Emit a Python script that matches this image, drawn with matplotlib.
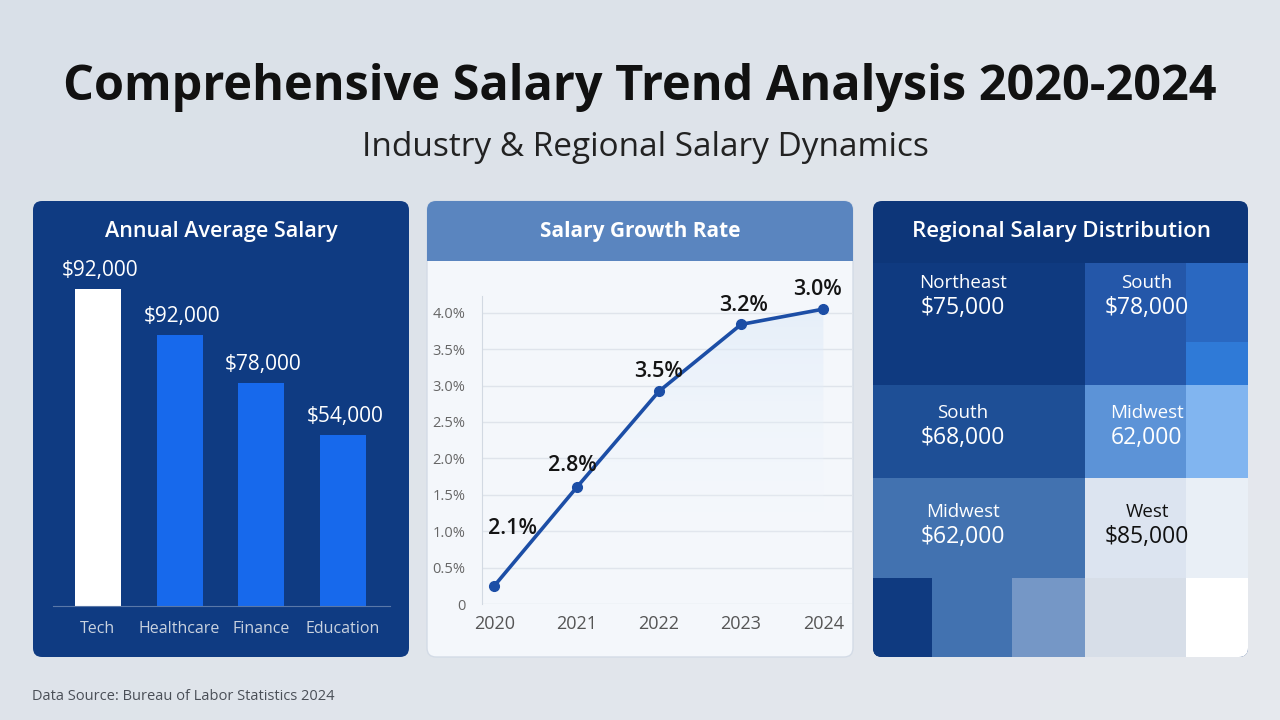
import matplotlib

matplotlib.use("Agg")
import matplotlib.pyplot as plt
import numpy as np
from matplotlib.colors import LinearSegmentedColormap
from matplotlib.patches import FancyBboxPatch, Rectangle

plt.rcParams["font.family"] = ["Open Sans", "DejaVu Sans"]

# --- data -------------------------------------------------------------
industries = ["Tech", "Healthcare", "Finance", "Education"]
salary_values = [92000, 78600, 64700, 49600]
salary_labels = ["$92,000", "$92,000", "$78,000", "$54,000"]

years = [2020, 2021, 2022, 2023, 2024]
growth_values = [0.25, 1.6, 2.92, 3.84, 4.05]
growth_labels = ["2.1%", "2.8%", "3.5%", "3.2%", "3.0%"]
growth_ticks = [0, 0.5, 1.0, 1.5, 2.0, 2.5, 3.0, 3.5, 4.0]

region_names = ["Northeast", "South", "South", "Midwest", "Midwest", "West"]
region_values = ["$75,000", "$78,000", "$68,000", "62,000", "$62,000", "$85,000"]

# heatmap intensity (0 = white, 1 = navy), rows top to bottom
heat_levels = np.array([
    [1.00, 1.00, 1.00, 0.78, 0.72],
    [1.00, 1.00, 1.00, 0.78, 0.66],
    [0.88, 0.88, 0.88, 0.50, 0.30],
    [0.58, 0.58, 0.58, 0.12, 0.07],
    [1.00, 0.58, 0.40, 0.14, 0.00],
])

W, H = 1280, 720
NAVY = "#0f3b82"

fig = plt.figure(figsize=(12.8, 7.2), dpi=100)
bg = fig.add_axes([0, 0, 1, 1])
bg.set_xlim(0, W)
bg.set_ylim(H, 0)
bg.axis("off")

gx, gy = np.meshgrid(np.linspace(0, 1, 64), np.linspace(0, 1, 36))
bg_cmap = LinearSegmentedColormap.from_list("bg", ["#d9e0e8", "#e6e9ee"])
bg.imshow(0.6 * gx + 0.4 * gy, extent=(0, W, H, 0), cmap=bg_cmap, aspect="auto", zorder=0)


def px_axes(x0, y0, x1, y1):
    return fig.add_axes([x0 / W, 1 - y1 / H, (x1 - x0) / W, (y1 - y0) / H])


def panel(x0, y0, x1, y1, color, edge="none", z=1):
    patch = FancyBboxPatch((x0, y0), x1 - x0, y1 - y0, boxstyle="round,pad=0,rounding_size=9",
                           fc=color, ec=edge, lw=1, zorder=z)
    bg.add_patch(patch)
    return patch


bg.text(640, 88, "Comprehensive Salary Trend Analysis 2020-2024", ha="center", va="center",
        fontsize=35, fontweight="bold", color="#111111")
bg.text(645, 147, "Industry & Regional Salary Dynamics", ha="center", va="center",
        fontsize=24, color="#222222")
bg.text(32, 697, "Data Source: Bureau of Labor Statistics 2024", ha="left", va="center",
        fontsize=10.5, color="#4a4f57")

# --- panel 1: bars ------------------------------------------------------
panel(33, 201, 409, 657, NAVY)
bg.text(221, 232, "Annual Average Salary", ha="center", va="center", fontsize=15.5,
        fontweight="semibold", color="white", zorder=3)

ax1 = px_axes(53, 250, 390, 606)
ax1.patch.set_alpha(0)
bar_colors = ["#ffffff", "#1769ec", "#1769ec", "#1769ec"]
bars = ax1.bar(range(len(industries)), salary_values, width=0.563, color=bar_colors)
for rect, label in zip(bars, salary_labels):
    ax1.annotate(label, (rect.get_x() + rect.get_width() / 2, rect.get_height()),
                 xytext=(2, 8), textcoords="offset pixels", ha="center", va="bottom",
                 fontsize=15, color="white")
ax1.set_xlim(-0.55, 3.575)
ax1.set_ylim(0, 103300)
ax1.set_xticks(range(len(industries)), industries)
ax1.tick_params(axis="x", length=0, pad=11, labelsize=11.5, labelcolor="#c9d2df")
ax1.set_yticks([])
for side in ["top", "right", "left"]:
    ax1.spines[side].set_visible(False)
ax1.spines["bottom"].set_color("#5a78a8")

# --- panel 2: growth line -----------------------------------------------
panel(427, 201, 853, 657, "#f4f7fb", edge="#d3dbe6")
header = panel(427, 201, 853, 275, "#5a85bf", z=2)
header.set_clip_path(Rectangle((427, 201), 426, 60, transform=bg.transData))
bg.text(640, 232, "Salary Growth Rate", ha="center", va="center", fontsize=15,
        fontweight="bold", color="white", zorder=3)

ax2 = px_axes(482, 296, 853, 604)
ax2.patch.set_alpha(0)
ax2.set_xlim(2019.85, 2024.36)
ax2.set_ylim(0, 4.23)

# soft blue glow under the line
fill = ax2.fill_between(years, growth_values, 0, color="none")
glow = ax2.imshow(np.linspace(0.55, 0.0, 50).reshape(-1, 1), extent=(2019.85, 2024.36, 0, 4.23),
                  cmap=LinearSegmentedColormap.from_list("glow", ["#ffffff00", "#b9d3f2"]),
                  aspect="auto", origin="upper", vmin=0, vmax=1, zorder=1)
glow.set_clip_path(fill.get_paths()[0], transform=ax2.transData)

ax2.plot(years, growth_values, color="#1c4ea6", lw=2.6, marker="o", ms=7, zorder=3)
label_offsets = [(18, 57), (-4, 22), (0, 20), (2, 19), (-6, 20)]
for x, y, label, (dx, dy) in zip(years, growth_values, growth_labels, label_offsets):
    ax2.annotate(label, (x, y), xytext=(dx, dy), textcoords="offset pixels", ha="center",
                 va="center", fontsize=15.5, fontweight="semibold", color="#141414", zorder=4)

ax2.set_yticks(growth_ticks, ["0"] + [f"{t:.1f}%" for t in growth_ticks[1:]])
ax2.set_xticks(years, [str(y) for y in years])
ax2.grid(axis="y", color="#dfe4eb", lw=1)
ax2.set_axisbelow(True)
ax2.tick_params(length=0, labelsize=13, labelcolor="#555555")
ax2.tick_params(axis="y", pad=12, labelsize=10.5, labelcolor="#666666")
ax2.tick_params(axis="x", pad=8)
for side in ["top", "right", "bottom"]:
    ax2.spines[side].set_visible(False)
ax2.spines["left"].set_color("#d2d9e2")

# --- panel 3: regional heatmap ------------------------------------------
p3 = panel(873, 201, 1248, 657, "#0d3679")
bg.text(1061, 232, "Regional Salary Distribution", ha="center", va="center", fontsize=16,
        fontweight="semibold", color="white", zorder=4)

col_edges = [873, 932, 1012, 1085, 1186, 1248]
row_edges = [263, 342, 385, 478, 578, 657]
heat_cmap = LinearSegmentedColormap.from_list("heat", [
    (0.0, "#ffffff"), (0.07, "#e8eef6"), (0.12, "#dbe4f0"), (0.14, "#d6dde7"),
    (0.30, "#80b4f0"), (0.40, "#7597c6"), (0.50, "#5d94d8"), (0.58, "#4272b0"),
    (0.66, "#2f7ad8"), (0.72, "#2a68c2"), (0.78, "#2457a9"), (0.88, "#1e4f96"),
    (1.0, "#0f3a80")])
mesh = bg.pcolormesh(col_edges, row_edges, heat_levels, cmap=heat_cmap, vmin=0, vmax=1,
                     shading="flat", zorder=2)
mesh.set_clip_path(p3)

name_pos = [(963, 283), (1147, 283), (963, 413), (1147, 413), (963, 512), (1147, 512)]
for (x, y), name, value in zip(name_pos, region_names, region_values):
    color = "#111111" if name == "West" else "white"
    bg.text(x, y, name, ha="center", va="center", fontsize=13.5, color=color, zorder=4)
    bg.text(x, y + 25, value, ha="center", va="center", fontsize=16.5, color=color, zorder=4)

fig.savefig("out.png", dpi=100)
